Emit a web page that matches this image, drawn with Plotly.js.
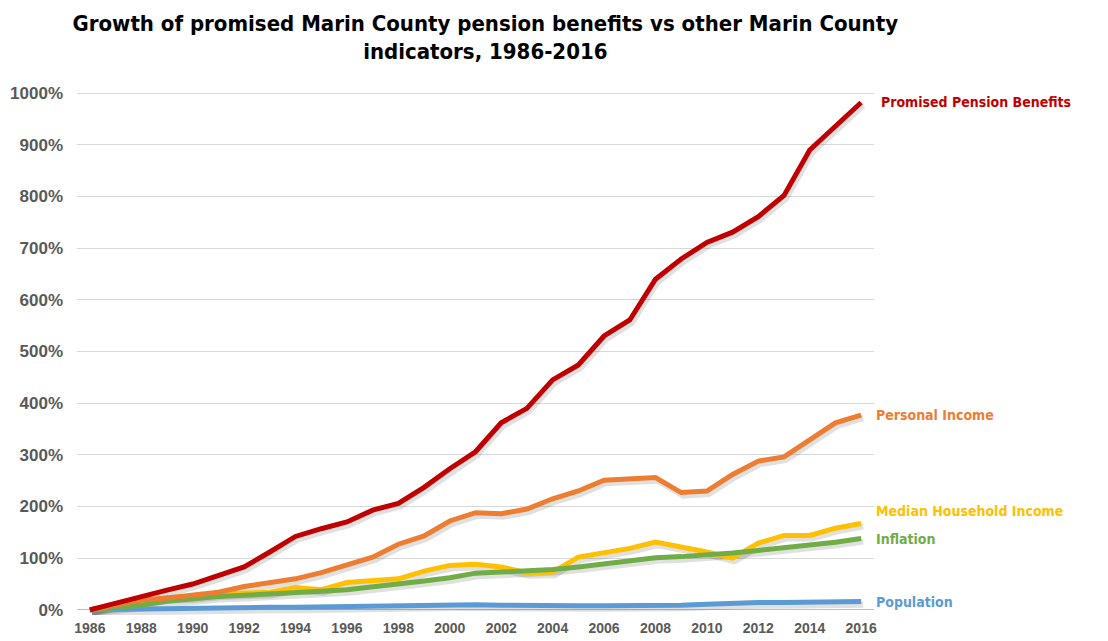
<!DOCTYPE html>
<html>
<head>
<meta charset="utf-8">
<script src="https://cdn.plot.ly/plotly-3.0.1.min.js"></script>
<style>html,body{margin:0;padding:0;background:#fff;}#chart{width:1108px;height:641px;}</style>
</head>
<body>
<div id="chart"></div>
<script>
const years = [1986,1987,1988,1989,1990,1991,1992,1993,1994,1995,1996,1997,1998,1999,2000,2001,2002,2003,2004,2005,2006,2007,2008,2009,2010,2011,2012,2013,2014,2015,2016];
const pension = [0,13,27,38,50,66,83,112,142,157,170,193,206,237,273,306,362,390,445,474,530,561,640,679,711,731,761,802,890,936,982];
const personalIncome = [0,9,19,23,28,34,45,53,60,72,86,102,127,143,172,188,186,195,215,230,251,253,256,227,230,262,288,296,328,362,377];
const medianIncome = [0,7,15,24,25,31,33,34,43,39,53,57,60,75,86,88,83,72,73,102,111,119,131,122,112,100,129,144,144,158,167];
const inflation = [0,4,9,17,22,26,28,30,33,36,39,44,49,56,62,71,73,75,78,83,89,96,101,103,106,110,115,120,126,131,138];
const population = [0,1,2,3,3,4,5,5,5,6,6,7,7,8,9,10,9,8,8,8,8,8,9,9,11,13,14,14,15,16,16];
const seriesNames = ["Population","Median Household Income","Inflation","Personal Income","Promised Pension Benefits"];
const yTickVals = [0,100,200,300,400,500,600,700,800,900,1000];
const xTickVals = [1986,1988,1990,1992,1994,1996,1998,2000,2002,2004,2006,2008,2010,2012,2014,2016];

const seriesData = [population, medianIncome, inflation, personalIncome, pension];
const colors = ["#5B9BD5","#FFC000","#70AD47","#ED7D31","#C00000"];
const labelShift = [0, 13, 0, 0, 0];
const labelXShift = [13, 13, 13, 13, 18];

const narrow = "Liberation Sans Narrow, DejaVu Sans Condensed, Arial Narrow, sans-serif";
const xRange = [1985.5, 2016.5];
const yRange = [-10, 1010];
// soft drop shadow: same data drawn on a hidden axis pair offset by a few pixels
const shadowDX = 0.08, shadowDY = 6;

const shadows = seriesData.map((d, i) => ({
  x: years, y: d, type: "scatter", mode: "lines", xaxis: "x", yaxis: "y",
  line: {color: "rgba(0,0,0,0.12)", width: 6}, hoverinfo: "skip", showlegend: false
}));
const traces = seriesData.map((d, i) => ({
  x: years, y: d, type: "scatter", mode: "lines", name: seriesNames[i],
  xaxis: "x2", yaxis: "y2",
  line: {color: colors[i], width: 5}, hoverinfo: "x+y+name"
}));

const annotations = seriesData.map((d, i) => ({
  x: years[years.length-1], y: d[d.length-1], xref: "x2", yref: "y2",
  text: seriesNames[i], showarrow: false, xanchor: "left", yanchor: "middle",
  xshift: labelXShift[i], yshift: labelShift[i],
  font: {family: narrow, size: 14, color: colors[i], weight: "bold"}
}));

const layout = {
  width: 1108, height: 641,
  margin: {l: 77, r: 234, t: 88, b: 26},
  paper_bgcolor: "#fff", plot_bgcolor: "#fff",
  showlegend: false,
  title: {
    text: "Growth of promised Marin County pension benefits vs other Marin County<br>indicators, 1986-2016",
    x: 0.438, xanchor: "center", xref: "container",
    y: 0.952, yanchor: "top", yref: "container",
    font: {family: narrow, size: 22, color: "#000", weight: "bold"}
  },
  xaxis: {
    range: [xRange[0] - shadowDX, xRange[1] - shadowDX], visible: false, fixedrange: true
  },
  yaxis: {
    range: [yRange[0] + shadowDY, yRange[1] + shadowDY], visible: false, fixedrange: true
  },
  xaxis2: {
    overlaying: "x", anchor: "y2", side: "bottom",
    range: xRange, tickvals: xTickVals, ticktext: xTickVals.map(String),
    showgrid: false, zeroline: false, showline: false, ticks: "", ticklabelstandoff: 3,
    tickfont: {family: "Liberation Sans, Arial, sans-serif", size: 14, color: "#595959", weight: "bold"},
    fixedrange: true
  },
  yaxis2: {
    overlaying: "y", anchor: "x2", side: "left",
    range: yRange, tickvals: yTickVals, ticktext: yTickVals.map(v => v + "%"),
    showgrid: true, gridcolor: "#D9D9D9", gridwidth: 1,
    zeroline: true, zerolinecolor: "#BFBFBF", zerolinewidth: 1,
    showline: false, ticks: "", ticklabelstandoff: 13,
    tickfont: {family: "Liberation Sans, Arial, sans-serif", size: 17, color: "#595959", weight: "bold"},
    fixedrange: true
  },
  annotations: annotations
};

Plotly.newPlot("chart", shadows.concat(traces), layout, {displayModeBar: false, staticPlot: true});
</script>
</body>
</html>
